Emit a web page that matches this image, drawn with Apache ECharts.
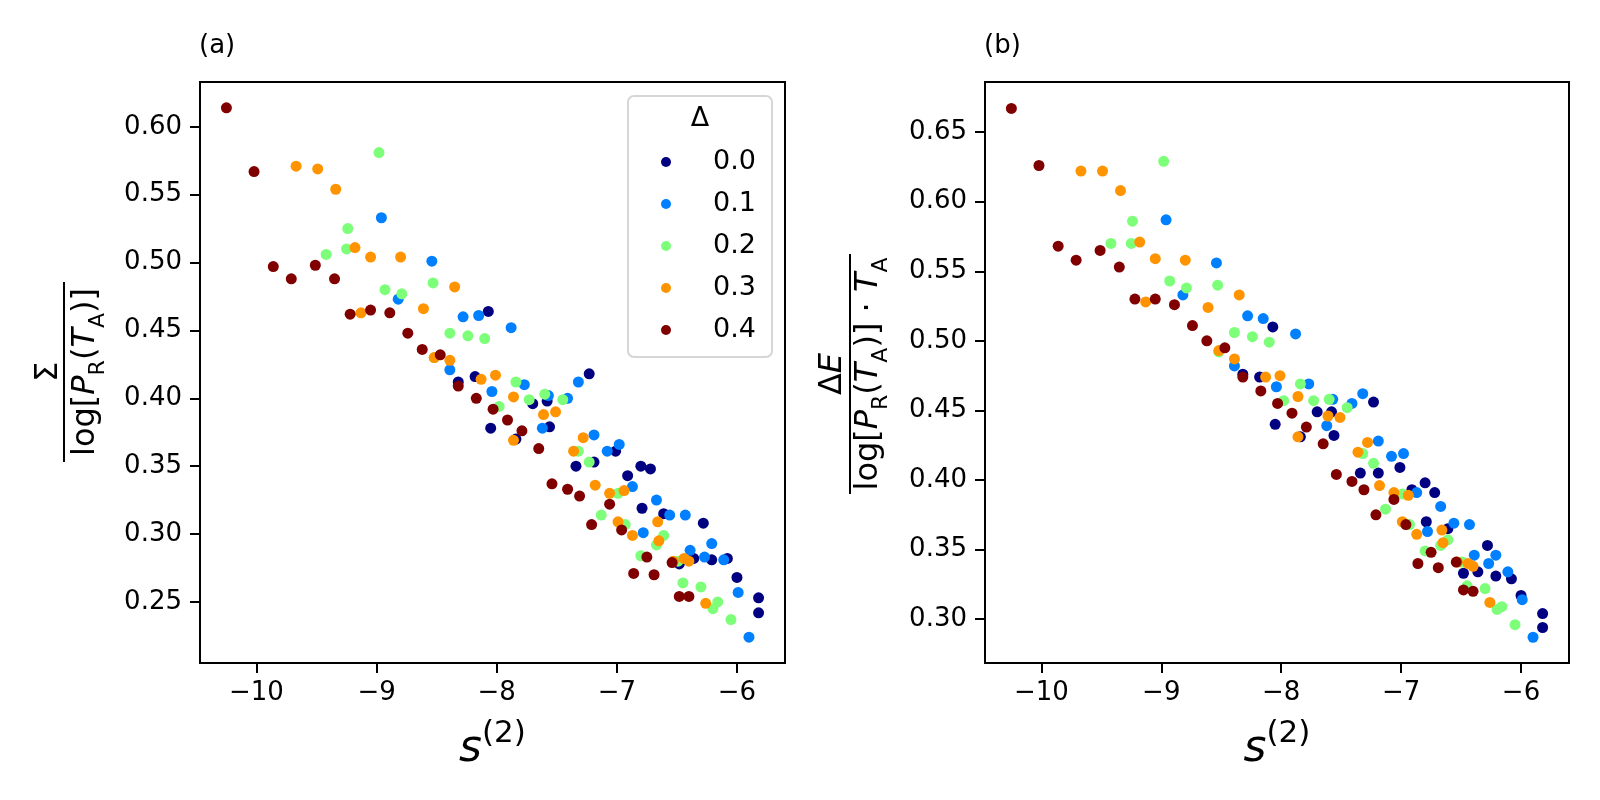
<!DOCTYPE html>
<html>
<head>
<meta charset="utf-8">
<title>Sigma and Delta E vs s(2)</title>
<script src="https://cdn.jsdelivr.net/npm/echarts@6.0.0/dist/echarts.min.js"></script>
<style>
  html, body { margin: 0; padding: 0; background: #fff; }
  #chart { width: 1600px; height: 800px; }
</style>
</head>
<body>
<div id="chart"></div>
<script>
// legend labels (Delta) and jet colours
const deltas = ['0.0', '0.1', '0.2', '0.3', '0.4']
const colors = ['#000080', '#0080ff', '#7dff7a', '#ff9400', '#800000']

// s^(2) for every point, one list per Delta (same points in both panels)
const s2_d0 = [-8.07, -8.32, -8.18, -8.05, -7.84, -7.70, -7.58, -7.56, -7.23, -7.19, -7.34, -7.01, -6.80, -6.72, -6.91, -6.79, -6.61, -6.28, -6.48, -6.36, -6.21, -6.08, -6.00, -5.82, -5.82]
const s2_d1 = [-8.96, -8.54, -8.82, -8.28, -8.15, -7.88, -8.39, -8.04, -7.77, -7.57, -7.41, -7.62, -7.32, -7.19, -7.08, -6.98, -6.87, -6.67, -6.56, -6.43, -6.78, -6.39, -6.27, -6.21, -6.11, -5.99, -5.90]
const s2_d2 = [-8.98, -9.24, -9.42, -9.25, -8.53, -8.93, -8.79, -8.39, -8.24, -8.10, -8.52, -7.84, -7.98, -7.73, -7.60, -7.45, -7.32, -7.23, -6.99, -7.13, -6.93, -6.61, -6.67, -6.80, -6.49, -6.45, -6.30, -6.16, -6.20, -6.05]
const s2_d3 = [-9.67, -9.49, -9.34, -9.18, -9.05, -8.80, -8.35, -8.61, -9.13, -8.52, -8.39, -8.13, -8.01, -7.86, -7.61, -7.51, -7.86, -7.28, -7.36, -7.18, -6.94, -7.06, -6.99, -6.87, -6.66, -6.65, -6.53, -6.44, -6.40, -6.26]
const s2_d4 = [-10.25, -10.02, -9.86, -9.71, -9.51, -9.35, -9.22, -9.05, -8.89, -8.74, -8.62, -8.47, -8.32, -8.17, -8.03, -7.91, -7.79, -7.65, -7.54, -7.41, -7.31, -7.06, -7.21, -6.96, -6.75, -6.86, -6.69, -6.54, -6.48, -6.40]

// panel (a): Sigma / log[P_R(T_A)]
const sigma_d0 = [0.464, 0.412, 0.416, 0.378, 0.370, 0.396, 0.398, 0.379, 0.418, 0.353, 0.350, 0.361, 0.350, 0.348, 0.343, 0.319, 0.315, 0.308, 0.278, 0.282, 0.281, 0.282, 0.268, 0.253, 0.242]
const sigma_d1 = [0.533, 0.501, 0.473, 0.460, 0.461, 0.452, 0.421, 0.405, 0.410, 0.402, 0.400, 0.378, 0.412, 0.373, 0.361, 0.366, 0.335, 0.325, 0.314, 0.314, 0.301, 0.288, 0.283, 0.293, 0.281, 0.257, 0.224]
const sigma_d2 = [0.581, 0.525, 0.506, 0.510, 0.485, 0.480, 0.477, 0.448, 0.446, 0.444, 0.430, 0.412, 0.394, 0.399, 0.403, 0.399, 0.361, 0.353, 0.330, 0.314, 0.307, 0.299, 0.292, 0.284, 0.280, 0.264, 0.261, 0.250, 0.245, 0.237]
const sigma_d3 = [0.571, 0.569, 0.554, 0.511, 0.504, 0.504, 0.482, 0.466, 0.463, 0.430, 0.428, 0.414, 0.417, 0.401, 0.388, 0.390, 0.369, 0.371, 0.361, 0.336, 0.332, 0.330, 0.309, 0.299, 0.309, 0.295, 0.280, 0.282, 0.280, 0.249]
const sigma_d4 = [0.614, 0.567, 0.497, 0.488, 0.498, 0.488, 0.462, 0.465, 0.463, 0.448, 0.436, 0.432, 0.409, 0.400, 0.392, 0.384, 0.376, 0.363, 0.337, 0.333, 0.328, 0.322, 0.307, 0.303, 0.283, 0.271, 0.270, 0.279, 0.254, 0.254]

// panel (b): Delta E / (log[P_R(T_A)] * T_A)
const dE_d0 = [0.510, 0.476, 0.474, 0.440, 0.431, 0.449, 0.449, 0.432, 0.456, 0.405, 0.405, 0.409, 0.398, 0.391, 0.393, 0.370, 0.365, 0.353, 0.333, 0.334, 0.331, 0.329, 0.317, 0.304, 0.294]
const dE_d1 = [0.587, 0.556, 0.533, 0.518, 0.516, 0.505, 0.482, 0.467, 0.469, 0.458, 0.455, 0.439, 0.462, 0.428, 0.417, 0.419, 0.391, 0.381, 0.369, 0.368, 0.363, 0.346, 0.340, 0.346, 0.334, 0.314, 0.287]
const dE_d2 = [0.629, 0.586, 0.570, 0.570, 0.540, 0.543, 0.538, 0.506, 0.503, 0.499, 0.492, 0.469, 0.457, 0.457, 0.458, 0.452, 0.419, 0.412, 0.390, 0.379, 0.368, 0.357, 0.353, 0.349, 0.341, 0.324, 0.322, 0.309, 0.307, 0.296]
const dE_d3 = [0.622, 0.622, 0.608, 0.571, 0.559, 0.558, 0.533, 0.524, 0.528, 0.493, 0.487, 0.474, 0.475, 0.460, 0.446, 0.445, 0.431, 0.427, 0.420, 0.396, 0.389, 0.391, 0.370, 0.361, 0.364, 0.355, 0.341, 0.340, 0.338, 0.312]
const dE_d4 = [0.667, 0.626, 0.568, 0.558, 0.565, 0.553, 0.530, 0.530, 0.526, 0.511, 0.500, 0.495, 0.474, 0.464, 0.455, 0.448, 0.438, 0.426, 0.404, 0.399, 0.393, 0.386, 0.375, 0.368, 0.348, 0.340, 0.337, 0.341, 0.321, 0.320]

// tick labels
const xTicks = [-10, -9, -8, -7, -6]
const yTicksA = [0.25, 0.30, 0.35, 0.40, 0.45, 0.50, 0.55, 0.60]
const yTicksB = [0.30, 0.35, 0.40, 0.45, 0.50, 0.55, 0.60, 0.65]

const s2Lists = [s2_d0, s2_d1, s2_d2, s2_d3, s2_d4]
const sigmaLists = [sigma_d0, sigma_d1, sigma_d2, sigma_d3, sigma_d4]
const dELists = [dE_d0, dE_d1, dE_d2, dE_d3, dE_d4]

const FONT = 'DejaVu Sans'
const pairUp = (xs, ys) => xs.map((x, i) => [x, ys[i]])

const xAxisFor = (gridIndex) => ({
  type: 'value',
  gridIndex: gridIndex,
  min: -10.47,
  max: -5.60,
  splitLine: { show: false },
  axisLine: { show: false },
  axisTick: { show: true, length: 10, lineStyle: { color: '#000', width: 2 }, customValues: xTicks },
  axisLabel: {
    color: '#000', fontSize: 26, fontFamily: FONT, margin: 17,
    customValues: xTicks,
    formatter: (v) => (v < 0 ? '\u2212' + Math.abs(v) : String(v))
  },
  name: '{i|s}{sup|(2)}',
  nameLocation: 'middle',
  nameGap: 55,
  nameTextStyle: {
    rich: {
      i: { fontSize: 44, fontStyle: 'italic', fontFamily: FONT, color: '#000', lineHeight: 64 },
      sup: { fontSize: 31, fontFamily: FONT, color: '#000', verticalAlign: 'top' }
    }
  }
})

const yAxisFor = (gridIndex, min, max, ticks) => ({
  type: 'value',
  gridIndex: gridIndex,
  min: min,
  max: max,
  splitLine: { show: false },
  axisLine: { show: false },
  axisTick: { show: true, length: 10, lineStyle: { color: '#000', width: 2 }, customValues: ticks },
  axisLabel: {
    color: '#000', fontSize: 26, fontFamily: FONT, margin: 18,
    customValues: ticks,
    formatter: (v) => v.toFixed(2)
  }
})

const series = []
deltas.forEach((d, k) => {
  series.push({
    name: d, type: 'scatter', xAxisIndex: 0, yAxisIndex: 0,
    symbolSize: 11, itemStyle: { color: colors[k], opacity: 1 },
    data: pairUp(s2Lists[k], sigmaLists[k])
  })
  series.push({
    name: d, type: 'scatter', xAxisIndex: 1, yAxisIndex: 1,
    symbolSize: 11, itemStyle: { color: colors[k], opacity: 1 },
    data: pairUp(s2Lists[k], dELists[k])
  })
})

// rich text pieces for the fraction axis labels
const fracRich = {
  r: { fontSize: 32, fontFamily: FONT, fill: '#000', lineHeight: 46 },
  i: { fontSize: 32, fontFamily: FONT, fontStyle: 'italic', fill: '#000', lineHeight: 46 },
  s: { fontSize: 22, fontFamily: FONT, fill: '#000', verticalAlign: 'bottom' }
}

const fraction = (cx, cy, numText, denText, numOff, denOff, halfLen) => ({
  type: 'group',
  x: cx, y: cy,
  rotation: Math.PI / 2,
  children: [
    { type: 'text', x: 0, y: -numOff, style: { text: numText, rich: fracRich, align: 'center', verticalAlign: 'middle' } },
    { type: 'line', shape: { x1: -halfLen, y1: 0, x2: halfLen, y2: 0 }, style: { stroke: '#000', lineWidth: 2 } },
    { type: 'text', x: 0, y: denOff, style: { text: denText, rich: fracRich, align: 'center', verticalAlign: 'middle' } }
  ]
})

const chart = echarts.init(document.getElementById('chart'))

const option = {
  animation: false,
  backgroundColor: '#fff',
  title: [
    { text: '(a)', left: 199, top: 33, padding: 0, textStyle: { fontSize: 26, fontWeight: 'normal', fontFamily: FONT, color: '#000' } },
    { text: '(b)', left: 984, top: 33, padding: 0, textStyle: { fontSize: 26, fontWeight: 'normal', fontFamily: FONT, color: '#000' } }
  ],
  grid: [
    { left: 200, top: 82, width: 585, height: 581, show: true, borderColor: '#000', borderWidth: 2, outerBoundsMode: 'none' },
    { left: 985, top: 82, width: 584, height: 581, show: true, borderColor: '#000', borderWidth: 2, outerBoundsMode: 'none' }
  ],
  xAxis: [xAxisFor(0), xAxisFor(1)],
  yAxis: [
    yAxisFor(0, 0.205, 0.633, yTicksA),
    yAxisFor(1, 0.2685, 0.686, yTicksB)
  ],
  legend: {
    data: deltas,
    orient: 'vertical',
    left: 661,
    top: 147,
    padding: 0,
    icon: 'circle',
    itemWidth: 10,
    itemHeight: 10,
    itemGap: 12,
    selectedMode: false,
    textStyle: { fontSize: 27, fontFamily: FONT, color: '#000', lineHeight: 30, padding: [0, 0, 0, 37] },
    z: 6
  },
  graphic: [
    {
      type: 'rect', z: 5,
      shape: { x: 628, y: 96, width: 144, height: 261, r: 6 },
      style: { fill: 'rgba(255,255,255,0.8)', stroke: '#d6d6d6', lineWidth: 2 }
    },
    {
      type: 'text', z: 6, x: 700, y: 119,
      style: { text: 'Δ', fontSize: 27, fontFamily: FONT, fill: '#000', align: 'center', verticalAlign: 'middle' }
    },
    fraction(64, 372, '{r|Σ}', '{r|log[}{i|P}{s|R}{r|(}{i|T}{s|A}{r|)]}', 15, 22, 90),
    fraction(850, 374, '{r|Δ}{i|E}', '{r|log[}{i|P}{s|R}{r|(}{i|T}{s|A}{r|)] · }{i|T}{s|A}', 17, 19, 120)
  ],
  series: series
}

chart.setOption(option)
</script>
</body>
</html>
